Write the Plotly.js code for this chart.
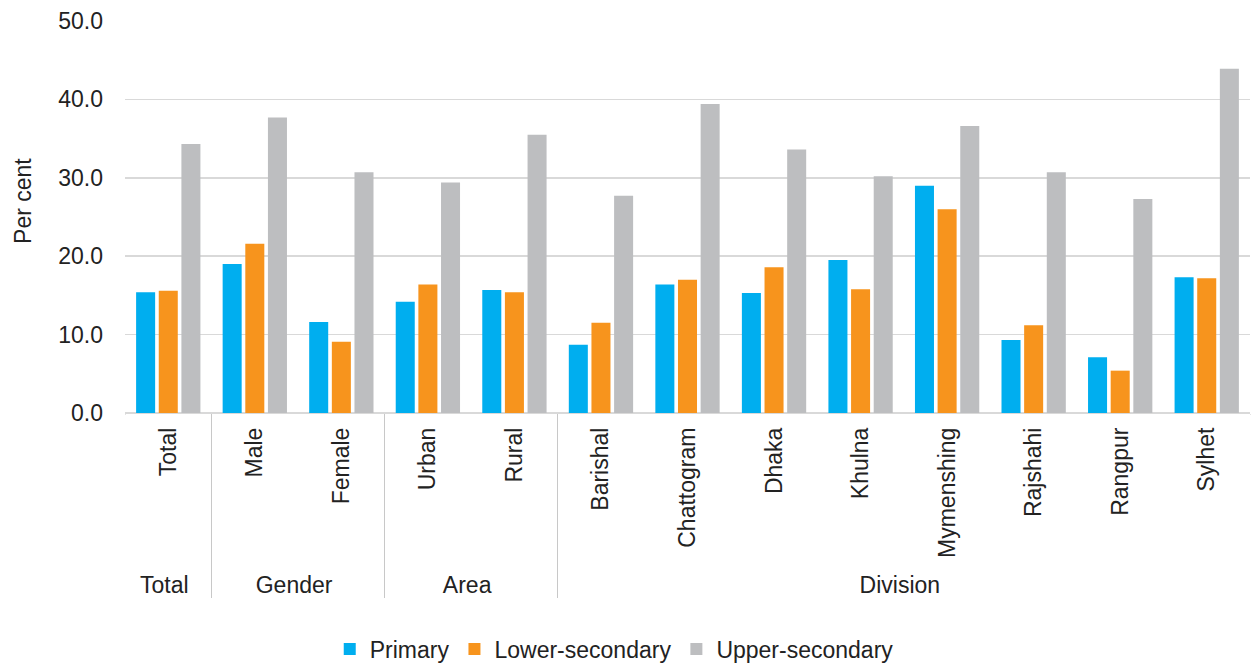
<!DOCTYPE html>
<html>
<head>
<meta charset="utf-8">
<script src="https://cdn.plot.ly/plotly-3.0.1.min.js"></script>
<style>html,body{margin:0;padding:0;background:#fff;}#chart{width:1251px;height:665px;}</style>
</head>
<body>
<div id="chart"></div>
<script>
const groups = ["Total","Gender","Gender","Area","Area","Division","Division","Division","Division","Division","Division","Division","Division"];
const categories = ["Total","Male","Female","Urban","Rural","Barishal","Chattogram","Dhaka","Khulna","Mymenshing","Rajshahi","Rangpur","Sylhet"];
const primary = [15.4,19.0,11.6,14.2,15.7,8.7,16.4,15.3,19.5,29.0,9.3,7.1,17.3];
const lowerSecondary = [15.6,21.6,9.1,16.4,15.4,11.5,17.0,18.6,15.8,26.0,11.2,5.4,17.2];
const upperSecondary = [34.3,37.7,30.7,29.4,35.5,27.7,39.4,33.6,30.2,36.6,30.7,27.3,43.9];
const yTicks = [0,10,20,30,40,50];
const yTickLabels = ["0.0","10.0","20.0","30.0","40.0","50.0"];
const yTitle = "Per cent";

const font = "Liberation Sans, Arial, sans-serif";
const x = [groups, categories];
const traces = [
  {type:"bar", name:"Primary", x:x, y:primary, marker:{color:"#00AEEF"}},
  {type:"bar", name:"Lower-secondary", x:x, y:lowerSecondary, marker:{color:"#F7941D"}},
  {type:"bar", name:"Upper-secondary", x:x, y:upperSecondary, marker:{color:"#BDBEC0"}}
];
const layout = {
  width:1251, height:665,
  margin:{l:125, r:1, t:21, b:252},
  paper_bgcolor:"#fff", plot_bgcolor:"#fff",
  font:{family:font, size:23, color:"#222"},
  barmode:"group", bargap:0.215, bargroupgap:0.16,
  showlegend:true,
  legend:{orientation:"h", xref:"container", yref:"container", x:0.491, xanchor:"center", y:0.024, yanchor:"middle", font:{size:23, color:"#222"}, itemclick:false, tracegroupgap:0},
  xaxis:{type:"multicategory", tickangle:-90, showgrid:false, showline:false, ticks:"", ticklabelstandoff:9, showdividers:true, dividercolor:"#C8C8C8", dividerwidth:1, tickfont:{size:23, color:"#222"}},
  yaxis:{range:[0,50], tickvals:yTicks, ticktext:yTickLabels, showgrid:true, gridcolor:"#D9D9D9", gridwidth:1.5, zeroline:true, zerolinecolor:"#D9D9D9", zerolinewidth:1.5, showline:false, ticks:"", ticklabelstandoff:21, tickfont:{size:23, color:"#222"}},
  annotations:[
    {text:yTitle, xref:"paper", yref:"paper", x:0, y:0.541, xanchor:"center", yanchor:"middle", xshift:-102, textangle:-90, showarrow:false, font:{size:23, color:"#222"}}
  ],
  shapes:[
    {type:"line", xref:"paper", yref:"paper", x0:0, x1:0, y0:-0.7, y1:-0.004, line:{color:"#ffffff", width:4}, layer:"above"},
    {type:"line", xref:"paper", yref:"paper", x0:1, x1:1, y0:-0.7, y1:-0.004, line:{color:"#ffffff", width:4}, layer:"above"}
  ]
};
Plotly.newPlot("chart", traces, layout, {displayModeBar:false, staticPlot:true});
</script>
</body>
</html>
